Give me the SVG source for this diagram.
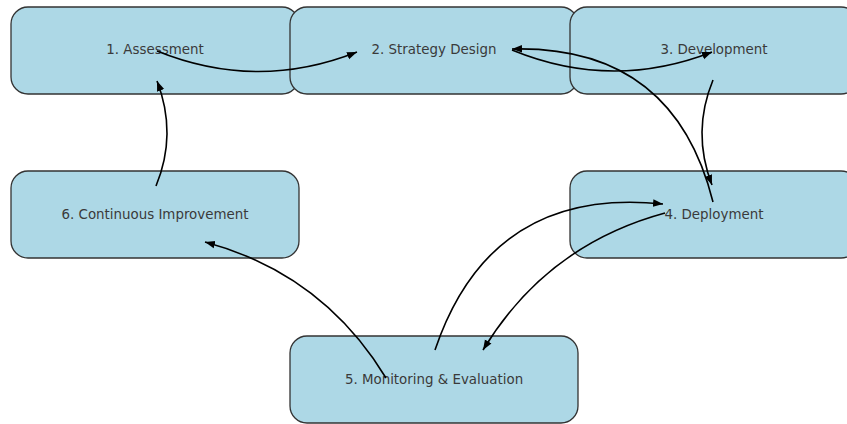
<svg xmlns="http://www.w3.org/2000/svg" width="847" height="424" viewBox="0 0 847 424">
<style>
.box{fill:#add8e6;stroke:#333;stroke-width:1.3}
.lbl{font-family:"DejaVu Sans",sans-serif;font-size:13.4px;fill:#3a3a3a;text-anchor:middle;dominant-baseline:central}
.edge{fill:none;stroke:#000;stroke-width:1.6;marker-end:url(#ah)}
</style>
<defs>
<marker id="ah" markerUnits="userSpaceOnUse" markerWidth="12" markerHeight="10" refX="10" refY="5" orient="auto">
<path d="M0,1.2 L10,5 L0,8.8 Z" fill="#000"/>
</marker>
</defs>
<rect width="847" height="424" fill="#fff"/>
<g id="node1"><rect class="box" x="11" y="7" width="288" height="87" rx="17"/><text class="lbl" x="155" y="49">1. Assessment</text></g>
<g id="node2"><rect class="box" x="290" y="7" width="288" height="87" rx="17"/><text class="lbl" x="434" y="49">2. Strategy Design</text></g>
<g id="node3"><rect class="box" x="570" y="7" width="288" height="87" rx="17"/><text class="lbl" x="714" y="49">3. Development</text></g>
<g id="node6"><rect class="box" x="11" y="171" width="288" height="87" rx="17"/><text class="lbl" x="155" y="214">6. Continuous Improvement</text></g>
<g id="node4"><rect class="box" x="570" y="171" width="288" height="87" rx="17"/><text class="lbl" x="714" y="214">4. Deployment</text></g>
<g id="node5"><rect class="box" x="290" y="336" width="288" height="87" rx="17"/><text class="lbl" x="434" y="379">5. Monitoring &amp; Evaluation</text></g>
<g id="connectors">
<path class="edge" d="M157,51 Q257,91.5 357,52"/>
<path class="edge" d="M512,50 Q612,91 712,52"/>
<path class="edge" d="M713,80 Q691.5,132.3 712,185"/>
<path class="edge" d="M713,202 Q673.7,45.1 512,49"/>
<path class="edge" d="M665,213 Q546.6,245.1 483,350"/>
<path class="edge" d="M435,350 Q490.6,185.8 663,204"/>
<path class="edge" d="M386,378 Q322.7,273.8 205,242"/>
<path class="edge" d="M156,186 Q177.5,133.7 157,81"/>
</g>
</svg>
